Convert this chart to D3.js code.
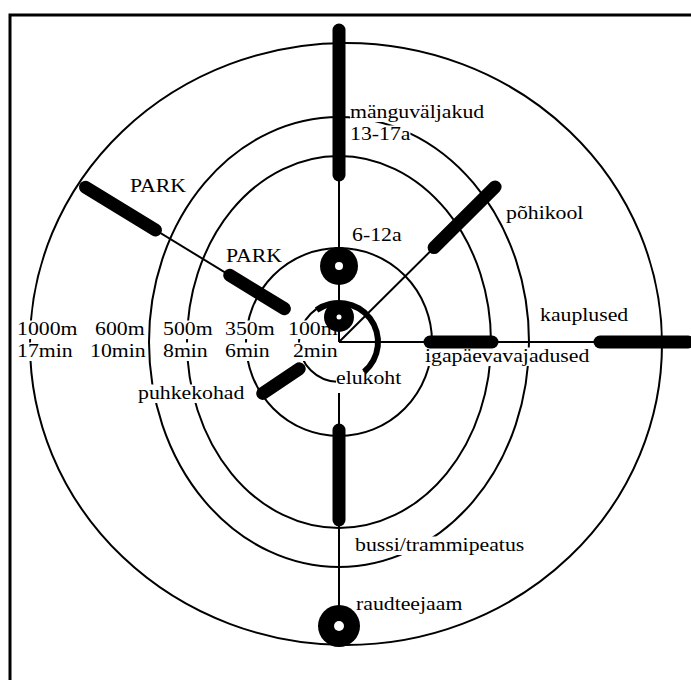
<!DOCTYPE html>
<html><head><meta charset="utf-8">
<script src="https://cdn.jsdelivr.net/npm/d3@7"></script>
<style>html,body{margin:0;padding:0;background:#fff;overflow:hidden}</style>
</head><body>
<svg id="chart" width="691" height="680"></svg>
<script>
// ---- data ----
const ringDistances = ["100m", "350m", "500m", "600m", "1000m"];
const ringMinutes   = ["2min", "6min", "8min", "10min", "17min"];
const ringRadiusX   = [40, 93, 152, 190, 316];
const ringRadiusY   = [40, 94, 186, 225, 301];
const ringShiftX    = [0, 0, 0, 0, 7];

const spokeNames  = ["north", "northeast", "east", "south", "northwest"];
const spokeAngles = [0, 45.2, 90, 180, 301.4];
const spokeStart  = [0, 0, 0, 51, 64];
const spokeEnd    = [312, 220, 360, 284, 297];

const barAngles = [0, 45.2, 90, 90, 180, 301.4, 301.4, 236];
const barFrom   = [167, 134, 91, 261, 88, 64, 215, 48];
const barTo     = [312, 220, 153, 349, 178, 128, 297, 92];

const dotAngles = [0, 0, 180];
const dotDist   = [76, 25, 284];
const dotSize   = [19, 15, 21];
const dotHole   = [4, 2.5, 5];

const homeArc = {radius: 39, from: -35, to: 140};

// place labels (multi-line labels are lists of lines)
const labelTexts = [["mänguväljakud", "13-17a"], ["PARK"], ["PARK"], ["6-12a"], ["põhikool"], ["kauplused"],
  ["elukoht"], ["igapäevavajadused"], ["puhkekohad"], ["bussi/trammipeatus"], ["raudteejaam"]];
const labelAt = [[350,118],[130,192],[226,262],[352,241],[506,219],[540,321],
  [336,384],[425,362],[138,399],[355,551],[356,610]];
const ringLabelX1 = [288, 225, 163, 95, 17];
const ringLabelX2 = [293, 225, 163, 90, 17];
const ringLabelY = [335, 357];
const LINE = 22;

// ---- scales ----
const W = 691, H = 680;
const cx = 339, cy = 342;
const x = d3.scaleLinear().domain([-cx, W - cx]).range([0, W]);
const y = d3.scaleLinear().domain([cy, cy - H]).range([0, H]);
const rx = d3.scaleLinear().domain([0, 100]).range([0, 100]);
const polar = (a, r) => { const t = a * Math.PI / 180; return [x(r * Math.sin(t)), y(r * Math.cos(t))]; };

const svg = d3.select("#chart");
const FONT = "'Liberation Serif','Times New Roman',serif";
const SX = 1.1, FS = 19.8;

// border
svg.append("path").attr("d", `M10,${H+5} L10,15 L${W+5},15`).attr("fill","none").attr("stroke","#000").attr("stroke-width",3);

// rings
svg.append("g").selectAll("ellipse").data(ringDistances).join("ellipse")
  .attr("cx", (d,i) => x(ringShiftX[i])).attr("cy", (d,i) => y(i===4 ? -2 : 0))
  .attr("rx", (d,i) => rx(ringRadiusX[i])).attr("ry", (d,i) => rx(ringRadiusY[i]))
  .attr("fill","none").attr("stroke","#000").attr("stroke-width",2);

// labels with white backing; lines = [[text, x, y], ...] in page px
const lg = svg.append("g");
function label(lines) {
  const ox = lines[0][1], oy = lines[0][2];
  const gg = lg.append("g").attr("transform", `translate(${ox},${oy}) scale(${SX},1)`);
  const rg = gg.append("g");
  const t = gg.append("text").attr("font-family",FONT).attr("font-size",FS).attr("fill","#000");
  lines.forEach(([txt, px, py]) => {
    const lx = (px - ox) / SX, ly = py - oy;
    const sp = t.append("tspan").attr("x", lx).attr("y", ly).text(txt);
    const w = sp.node().getComputedTextLength();
    rg.append("rect").attr("fill","#fff").attr("x", lx).attr("width", w).attr("y", ly - 14.5).attr("height", 18.5);
  });
}
ringDistances.forEach((d,i) => label([[d, ringLabelX1[i], ringLabelY[0]], [ringMinutes[i], ringLabelX2[i], ringLabelY[1]]]));
labelTexts.forEach((lines,i) => label(lines.map((s,k) => [s, labelAt[i][0], labelAt[i][1] + k*LINE])));

// spokes
svg.append("g").selectAll("line").data(spokeNames).join("line")
  .attr("x1",(d,i)=>polar(spokeAngles[i], spokeStart[i])[0]).attr("y1",(d,i)=>polar(spokeAngles[i], spokeStart[i])[1])
  .attr("x2",(d,i)=>polar(spokeAngles[i], spokeEnd[i])[0]).attr("y2",(d,i)=>polar(spokeAngles[i], spokeEnd[i])[1])
  .attr("stroke","#000").attr("stroke-width",2);

// bars
svg.append("g").selectAll("line").data(barAngles).join("line")
  .attr("x1",(d,i)=>polar(d, barFrom[i])[0]).attr("y1",(d,i)=>polar(d, barFrom[i])[1])
  .attr("x2",(d,i)=>polar(d, barTo[i])[0]).attr("y2",(d,i)=>polar(d, barTo[i])[1])
  .attr("stroke","#000").attr("stroke-width",13).attr("stroke-linecap","round");

// dots
const dg = svg.append("g").selectAll("g").data(dotAngles).join("g")
  .attr("transform",(d,i)=>`translate(${polar(d, dotDist[i])})`);
dg.append("circle").attr("r",(d,i)=>dotSize[i]).attr("fill","#000");
dg.append("circle").attr("r",(d,i)=>dotHole[i]).attr("fill","#fff");

// home arc
const arc = d3.arc().innerRadius(homeArc.radius - 3).outerRadius(homeArc.radius + 3)
  .startAngle(homeArc.from * Math.PI/180).endAngle(homeArc.to * Math.PI/180);
svg.append("path").attr("d", arc()).attr("transform", `translate(${x(0)},${y(0)})`).attr("fill","#000");
</script>
</body></html>
